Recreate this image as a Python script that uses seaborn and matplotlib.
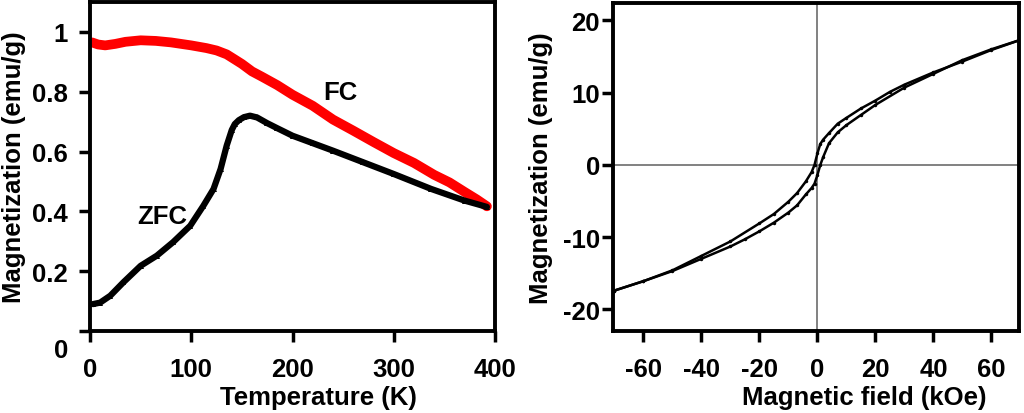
import numpy as np
import pandas as pd
import matplotlib
matplotlib.use("Agg")
import matplotlib.pyplot as plt
import matplotlib.transforms as mtransforms
import seaborn as sns

# ---- data: ZFC / FC magnetization vs temperature ----
T_fc = [2, 8, 15, 25, 35, 50, 65, 80, 100, 115, 125, 135, 143, 150, 160, 170, 185, 200,
        220, 240, 260, 280, 300, 320, 340, 355, 370, 382, 392]
M_fc = [0.965, 0.958, 0.955, 0.960, 0.967, 0.972, 0.970, 0.965, 0.955, 0.946, 0.938,
        0.925, 0.908, 0.893, 0.868, 0.850, 0.822, 0.790, 0.753, 0.707, 0.670, 0.632,
        0.595, 0.562, 0.522, 0.497, 0.465, 0.440, 0.417]

T_zfc = [3, 10, 20, 33, 50, 66, 82, 99, 112, 122, 129, 135, 140, 143, 147, 152, 158, 165,
         175, 185, 200, 220, 240, 270, 300, 337, 370, 392]
M_zfc = [0.090, 0.095, 0.118, 0.163, 0.218, 0.252, 0.297, 0.352, 0.419, 0.475, 0.542,
         0.620, 0.672, 0.692, 0.705, 0.715, 0.720, 0.714, 0.695, 0.678, 0.653, 0.628,
         0.603, 0.564, 0.525, 0.475, 0.436, 0.415]

# ---- data: hysteresis loop ----
H_desc = [70, 60, 50, 40, 30, 25, 20, 15, 10, 7, 4, 2, 1, 0, -1, -2, -4, -7, -10, -15,
          -20, -30, -40, -50, -60, -70]
M_desc = [17.3, 15.9, 14.3, 12.8, 11.1, 10.1, 8.9, 7.8, 6.5, 5.7, 4.4, 3.5, 2.9, 1.6,
          0.0, -1.0, -2.3, -3.9, -5.1, -6.8, -8.1, -10.6, -12.6, -14.6, -16.1, -17.4]
H_asc = [-70, -60, -50, -40, -30, -25, -20, -15, -10, -7, -4, -2, -1, 0, 1, 2, 4, 7, 10,
         15, 20, 30, 40, 50, 60, 70]
M_asc = [-17.4, -16.1, -14.7, -13.0, -11.3, -10.3, -9.2, -8.0, -6.6, -5.6, -4.1, -3.2,
         -2.6, -1.4, 0.0, 1.1, 3.0, 4.5, 5.5, 6.9, 8.3, 10.7, 12.6, 14.5, 16.0, 17.3]

left_xticks = [0, 100, 200, 300, 400]
left_yticks = [0, 0.2, 0.4, 0.6, 0.8, 1]
left_yticklabels = ["0", "0.2", "0.4", "0.6", "0.8", "1"]
right_xticks = [-60, -40, -20, 0, 20, 40, 60]
right_xticklabels = ["-60", "-40", "-20", "0", "20", "40", "60"]
right_yticks = [-20, -10, 0, 10, 20]
right_yticklabels = ["-20", "-10", "0", "10", "20"]

sns.set_style("ticks")
plt.rcParams['font.family'] = ['Liberation Sans', 'DejaVu Sans']
plt.rcParams['font.weight'] = 'bold'
for k in ('text.color', 'axes.labelcolor', 'xtick.color', 'ytick.color', 'axes.edgecolor'):
    plt.rcParams[k] = 'black'

fig = plt.figure(figsize=(10.24, 4.14), dpi=100)
ax1 = fig.add_axes([0.0879, 0.198, 0.3955, 0.7947])
ax2 = fig.add_axes([0.5986, 0.198, 0.3965, 0.7923])

FS = 18.5

# ---- left panel ----
df_fc = pd.DataFrame({"T": T_fc, "M": M_fc})
df_zfc = pd.DataFrame({"T": T_zfc, "M": M_zfc})
sns.lineplot(data=df_fc, x="T", y="M", ax=ax1, color="#ff0000", linewidth=7,
             estimator=None, sort=False)
sns.lineplot(data=df_zfc, x="T", y="M", ax=ax1, color="black", linewidth=4.5,
             estimator=None, sort=False, marker="^", markersize=4, markeredgewidth=0)
ax1.set_xlim(0, 400)
ax1.set_ylim(0, 1.1)
ax1.set_xticks(left_xticks)
ax1.set_yticks(left_yticks)
ax1.set_yticklabels(left_yticklabels)
ax1.set_xlabel("Temperature (K)", fontsize=FS, fontweight='bold')
ax1.set_ylabel("Magnetization (emu/g)", fontsize=FS, fontweight='bold')
ax1.xaxis.set_label_coords(0.563, -0.165)
ax1.yaxis.set_label_coords(-0.158, 0.5)
ax1.tick_params(axis='x', length=8, width=2.5, pad=10.5, labelsize=FS, colors='black')
ax1.tick_params(axis='y', length=8, width=2.5, pad=8, labelsize=FS, colors='black')
ax1.text(247, 0.80, "FC", fontsize=FS, fontweight='bold', ha='center', va='center',
         color='black')
ax1.text(71, 0.385, "ZFC", fontsize=FS, fontweight='bold', ha='center', va='center',
         color='black')
# y "0" label sits lower in the reference
for lab in ax1.get_yticklabels():
    if lab.get_text() == "0":
        lab.set_transform(lab.get_transform() +
                          mtransforms.ScaledTranslation(0, -16 / 100, fig.dpi_scale_trans))

# ---- right panel ----
ax2.axhline(0, color="#777777", linewidth=1.3, zorder=1)
ax2.axvline(0, color="#777777", linewidth=1.3, zorder=1)
df_d = pd.DataFrame({"H": H_desc, "M": M_desc})
df_a = pd.DataFrame({"H": H_asc, "M": M_asc})
for d in (df_d, df_a):
    sns.lineplot(data=d, x="H", y="M", ax=ax2, color="black", linewidth=1.8,
                 estimator=None, sort=False, marker="o", markersize=2.5,
                 markeredgewidth=0, zorder=3)
ax2.set_xlim(-70.5, 69.5)
ax2.set_ylim(-23, 22.4)
ax2.set_xticks(right_xticks)
ax2.set_xticklabels(right_xticklabels)
ax2.set_yticks(right_yticks)
ax2.set_yticklabels(right_yticklabels)
ax2.set_xlabel("Magnetic field (kOe)", fontsize=FS, fontweight='bold')
ax2.set_ylabel("Magnetization (emu/g)", fontsize=FS, fontweight='bold')
ax2.xaxis.set_label_coords(0.618, -0.165)
ax2.yaxis.set_label_coords(-0.147, 0.5)
ax2.tick_params(axis='x', length=8, width=2.5, pad=10.5, labelsize=FS, colors='black')
ax2.tick_params(axis='y', length=8, width=2.5, pad=1.5, labelsize=FS, colors='black')

for ax in (ax1, ax2):
    ax.xaxis.label.set_color('black')
    ax.yaxis.label.set_color('black')
    for s in ax.spines.values():
        s.set_visible(True)
        s.set_linewidth(2.8)
        s.set_color("black")
    for lab in ax.get_xticklabels() + ax.get_yticklabels():
        lab.set_fontweight('bold')
        lab.set_color('black')

fig.savefig("out.png", dpi=100, facecolor="white")
